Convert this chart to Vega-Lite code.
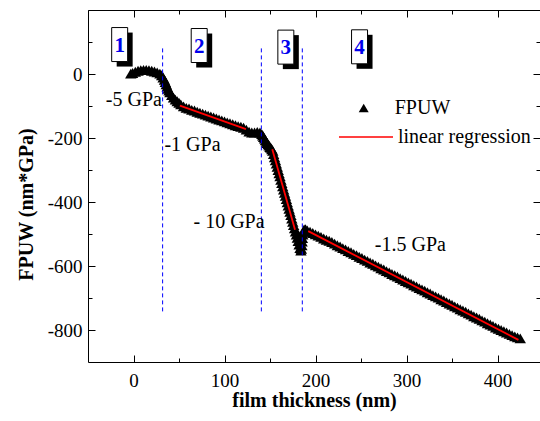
{
  "$schema": "https://vega.github.io/schema/vega-lite/v6.json",
  "width": 452,
  "height": 352,
  "autosize": {"type": "none"},
  "padding": {"left": 88, "top": 10, "right": 0, "bottom": 59},
  "background": "white",
  "config": {
    "view": {"stroke": null},
    "axis": {
      "grid": false,
      "domainColor": "black",
      "domainWidth": 1,
      "tickColor": "black",
      "tickWidth": 1,
      "labelColor": "black",
      "labelFont": "Liberation Serif",
      "labelFontSize": 19,
      "titleFont": "Liberation Serif",
      "titleFontSize": 20,
      "titleFontWeight": "bold",
      "titleColor": "black",
      "labelFlush": false,
      "labelOverlap": false
    },
    "legend": {
      "labelFont": "Liberation Serif",
      "labelFontSize": 20,
      "labelColor": "black",
      "padding": 0,
      "labelLimit": 400
    }
  },
  "datasets": {
    "curve": [
      {"thickness": -3, "fpuw": 1}, {"thickness": -1, "fpuw": 3}, {"thickness": 2, "fpuw": 7}, {"thickness": 5, "fpuw": 10},
      {"thickness": 8, "fpuw": 12}, {"thickness": 11, "fpuw": 13}, {"thickness": 14, "fpuw": 13}, {"thickness": 17, "fpuw": 12},
      {"thickness": 20, "fpuw": 10}, {"thickness": 23, "fpuw": 8}, {"thickness": 26, "fpuw": 5}, {"thickness": 29, "fpuw": 1},
      {"thickness": 31, "fpuw": -4}, {"thickness": 32.5, "fpuw": -11}, {"thickness": 34, "fpuw": -18}, {"thickness": 35, "fpuw": -25},
      {"thickness": 36, "fpuw": -32}, {"thickness": 37, "fpuw": -39}, {"thickness": 38, "fpuw": -46}, {"thickness": 39, "fpuw": -52},
      {"thickness": 40, "fpuw": -57}, {"thickness": 42, "fpuw": -66}, {"thickness": 44, "fpuw": -74}, {"thickness": 46, "fpuw": -80},
      {"thickness": 48, "fpuw": -85}, {"thickness": 50, "fpuw": -90}, {"thickness": 52, "fpuw": -95}, {"thickness": 55, "fpuw": -101},
      {"thickness": 58, "fpuw": -106}, {"thickness": 61, "fpuw": -108}, {"thickness": 64, "fpuw": -112}, {"thickness": 67, "fpuw": -114},
      {"thickness": 70, "fpuw": -118}, {"thickness": 73, "fpuw": -121}, {"thickness": 76, "fpuw": -124}, {"thickness": 79, "fpuw": -127},
      {"thickness": 82, "fpuw": -130}, {"thickness": 85, "fpuw": -133}, {"thickness": 88, "fpuw": -136}, {"thickness": 91, "fpuw": -139},
      {"thickness": 94, "fpuw": -142}, {"thickness": 97, "fpuw": -145}, {"thickness": 100, "fpuw": -148}, {"thickness": 103, "fpuw": -151},
      {"thickness": 106, "fpuw": -154}, {"thickness": 109, "fpuw": -157}, {"thickness": 112, "fpuw": -160}, {"thickness": 115, "fpuw": -163},
      {"thickness": 118, "fpuw": -165}, {"thickness": 121, "fpuw": -168}, {"thickness": 124, "fpuw": -174}, {"thickness": 127, "fpuw": -180},
      {"thickness": 130, "fpuw": -183}, {"thickness": 133, "fpuw": -183}, {"thickness": 136, "fpuw": -181}, {"thickness": 139, "fpuw": -183},
      {"thickness": 141, "fpuw": -188}, {"thickness": 142, "fpuw": -192}, {"thickness": 143, "fpuw": -197}, {"thickness": 144, "fpuw": -202},
      {"thickness": 145, "fpuw": -207}, {"thickness": 146, "fpuw": -212}, {"thickness": 147, "fpuw": -216}, {"thickness": 148, "fpuw": -220},
      {"thickness": 149, "fpuw": -224}, {"thickness": 150, "fpuw": -228}, {"thickness": 151, "fpuw": -231}, {"thickness": 152, "fpuw": -235},
      {"thickness": 153, "fpuw": -240}, {"thickness": 154, "fpuw": -250}, {"thickness": 155, "fpuw": -260}, {"thickness": 156, "fpuw": -270},
      {"thickness": 157, "fpuw": -280}, {"thickness": 158, "fpuw": -290}, {"thickness": 159, "fpuw": -300}, {"thickness": 160, "fpuw": -310},
      {"thickness": 161, "fpuw": -320}, {"thickness": 162, "fpuw": -331}, {"thickness": 163, "fpuw": -341}, {"thickness": 164, "fpuw": -351},
      {"thickness": 165, "fpuw": -361}, {"thickness": 166, "fpuw": -371}, {"thickness": 167, "fpuw": -381}, {"thickness": 168, "fpuw": -391},
      {"thickness": 169, "fpuw": -401}, {"thickness": 170, "fpuw": -411}, {"thickness": 171, "fpuw": -421}, {"thickness": 172, "fpuw": -431},
      {"thickness": 173, "fpuw": -441}, {"thickness": 174, "fpuw": -452}, {"thickness": 175, "fpuw": -462}, {"thickness": 176, "fpuw": -472},
      {"thickness": 177, "fpuw": -482}, {"thickness": 178, "fpuw": -492}, {"thickness": 179, "fpuw": -502}, {"thickness": 180, "fpuw": -512},
      {"thickness": 181, "fpuw": -522}, {"thickness": 182, "fpuw": -533}, {"thickness": 183, "fpuw": -544}, {"thickness": 184, "fpuw": -552},
      {"thickness": 184.5, "fpuw": -546}, {"thickness": 185, "fpuw": -535}, {"thickness": 185.3, "fpuw": -524}, {"thickness": 185.6, "fpuw": -513},
      {"thickness": 186, "fpuw": -502}, {"thickness": 186.5, "fpuw": -493}, {"thickness": 187.5, "fpuw": -486}, {"thickness": 189, "fpuw": -485},
      {"thickness": 191, "fpuw": -489}, {"thickness": 194, "fpuw": -493}, {"thickness": 197, "fpuw": -497}, {"thickness": 200, "fpuw": -501},
      {"thickness": 203, "fpuw": -505}, {"thickness": 206, "fpuw": -509}, {"thickness": 209, "fpuw": -514}, {"thickness": 212, "fpuw": -518},
      {"thickness": 215, "fpuw": -521}, {"thickness": 218, "fpuw": -525}, {"thickness": 221, "fpuw": -530}, {"thickness": 224, "fpuw": -535},
      {"thickness": 227, "fpuw": -539}, {"thickness": 230, "fpuw": -544}, {"thickness": 233, "fpuw": -548}, {"thickness": 236, "fpuw": -553},
      {"thickness": 239, "fpuw": -557}, {"thickness": 242, "fpuw": -562}, {"thickness": 245, "fpuw": -566}, {"thickness": 248, "fpuw": -571},
      {"thickness": 251, "fpuw": -575}, {"thickness": 254, "fpuw": -580}, {"thickness": 257, "fpuw": -584}, {"thickness": 260, "fpuw": -589},
      {"thickness": 263, "fpuw": -593}, {"thickness": 266, "fpuw": -598}, {"thickness": 269, "fpuw": -602}, {"thickness": 272, "fpuw": -607},
      {"thickness": 275, "fpuw": -611}, {"thickness": 278, "fpuw": -616}, {"thickness": 281, "fpuw": -620}, {"thickness": 284, "fpuw": -625},
      {"thickness": 287, "fpuw": -629}, {"thickness": 290, "fpuw": -633}, {"thickness": 293, "fpuw": -638}, {"thickness": 296, "fpuw": -642},
      {"thickness": 299, "fpuw": -647}, {"thickness": 302, "fpuw": -651}, {"thickness": 305, "fpuw": -655}, {"thickness": 308, "fpuw": -660},
      {"thickness": 311, "fpuw": -664}, {"thickness": 314, "fpuw": -669}, {"thickness": 317, "fpuw": -673}, {"thickness": 320, "fpuw": -677},
      {"thickness": 323, "fpuw": -682}, {"thickness": 326, "fpuw": -686}, {"thickness": 329, "fpuw": -691}, {"thickness": 332, "fpuw": -695},
      {"thickness": 335, "fpuw": -699}, {"thickness": 338, "fpuw": -704}, {"thickness": 341, "fpuw": -708}, {"thickness": 344, "fpuw": -713},
      {"thickness": 347, "fpuw": -717}, {"thickness": 350, "fpuw": -721}, {"thickness": 353, "fpuw": -726}, {"thickness": 356, "fpuw": -730},
      {"thickness": 359, "fpuw": -735}, {"thickness": 362, "fpuw": -739}, {"thickness": 365, "fpuw": -743}, {"thickness": 368, "fpuw": -748},
      {"thickness": 371, "fpuw": -752}, {"thickness": 374, "fpuw": -757}, {"thickness": 377, "fpuw": -761}, {"thickness": 380, "fpuw": -765},
      {"thickness": 383, "fpuw": -770}, {"thickness": 386, "fpuw": -774}, {"thickness": 389, "fpuw": -779}, {"thickness": 392, "fpuw": -783},
      {"thickness": 395, "fpuw": -787}, {"thickness": 398, "fpuw": -792}, {"thickness": 401, "fpuw": -796}, {"thickness": 404, "fpuw": -800},
      {"thickness": 407, "fpuw": -804}, {"thickness": 410, "fpuw": -808}, {"thickness": 413, "fpuw": -812}, {"thickness": 416, "fpuw": -816},
      {"thickness": 419, "fpuw": -820}, {"thickness": 422, "fpuw": -823}, {"thickness": 425, "fpuw": -826}
    ],
    "fits": [
      {"segment": "2", "thickness": 51, "fpuw": -99}, {"segment": "2", "thickness": 123.6, "fpuw": -172},
      {"segment": "3", "thickness": 152.5, "fpuw": -235}, {"segment": "3", "thickness": 177.5, "fpuw": -487},
      {"segment": "4", "thickness": 192, "fpuw": -491}, {"segment": "4", "thickness": 423, "fpuw": -831}
    ],
    "bounds": [{"thickness": 32}, {"thickness": 140.5}, {"thickness": 185.5}],
    "regions": [
      {"label": "1", "thickness": -15.2, "fpuw": 92},
      {"label": "2", "thickness": 72.2, "fpuw": 89},
      {"label": "3", "thickness": 167.4, "fpuw": 84},
      {"label": "4", "thickness": 248.4, "fpuw": 85}
    ],
    "notes": [
      {"text": "-5 GPa", "thickness": 0.4, "fpuw": -100},
      {"text": "-1 GPa", "thickness": 64.8, "fpuw": -240},
      {"text": "- 10 GPa", "thickness": 105, "fpuw": -482},
      {"text": "-1.5 GPa", "thickness": 304.2, "fpuw": -552}
    ]
  },
  "resolve": {"axis": {"x": "independent", "y": "independent"}},
  "layer": [
    {
      "data": {"name": "curve"},
      "mark": {"type": "point", "filled": true, "color": "black", "size": 130, "opacity": 1},
      "encoding": {
        "x": {"field": "thickness", "type": "quantitative", "scale": {"domain": [-50, 446.7], "nice": false, "zero": false},
          "axis": {"orient": "bottom", "values": [0, 100, 200, 300, 400], "tickSize": -7, "labelPadding": 16, "title": "film thickness (nm)", "titlePadding": 0}},
        "y": {"field": "fpuw", "type": "quantitative", "scale": {"domain": [-900, 200], "nice": false, "zero": false},
          "axis": {"orient": "left", "values": [0, -200, -400, -600, -800], "tickSize": -7, "labelPadding": 13,
            "labelExpr": "datum.value < 0 ? '-' + abs(datum.value) : '' + datum.value", "title": "FPUW (nm*GPa)", "titlePadding": 11, "titleY": 194}},
        "shape": {"datum": "FPUW", "type": "nominal", "scale": {"domain": ["FPUW"], "range": ["triangle-up"]},
          "legend": {"orient": "none", "legendX": 265.7, "legendY": 88, "title": null, "symbolSize": 100, "symbolFillColor": "black", "symbolStrokeColor": "black", "symbolStrokeWidth": 0, "labelOffset": 21}}
      }
    },
    {
      "data": {"name": "fits"},
      "mark": {"type": "line", "strokeWidth": 1.8},
      "encoding": {
        "x": {"field": "thickness", "type": "quantitative", "scale": {"domain": [-50, 446.7], "nice": false, "zero": false},
          "axis": {"orient": "bottom", "values": [50, 150, 250, 350], "tickSize": -4, "labels": false, "domain": false, "title": null}},
        "y": {"field": "fpuw", "type": "quantitative", "scale": {"domain": [-900, 200], "nice": false, "zero": false},
          "axis": {"orient": "left", "values": [100, -100, -300, -500, -700], "tickSize": -4, "labels": false, "domain": false, "title": null}},
        "detail": {"field": "segment"},
        "color": {"datum": "linear regression", "type": "nominal", "scale": {"domain": ["linear regression"], "range": ["#ff0000"]},
          "legend": {"orient": "none", "legendX": 250, "legendY": 99, "title": null, "symbolType": "stroke", "symbolSize": 2916, "symbolStrokeWidth": 1.5, "symbolStrokeColor": "#ff0000", "labelOffset": 4}}
      }
    },
    {
      "data": {"name": "bounds"},
      "mark": {"type": "rule", "color": "#0000ff", "strokeWidth": 1, "strokeDash": [4, 3]},
      "encoding": {
        "x": {"field": "thickness", "type": "quantitative", "scale": {"domain": [-50, 446.7], "nice": false, "zero": false},
          "axis": {"orient": "top", "values": [0, 100, 200, 300, 400], "tickSize": -7, "labels": false, "title": null}},
        "y": {"datum": 80, "type": "quantitative", "scale": {"domain": [-900, 200], "nice": false, "zero": false},
          "axis": {"orient": "right", "values": [0, -200, -400, -600, -800], "tickSize": -7, "labels": false, "domain": false, "title": null}},
        "y2": {"datum": -750}
      }
    },
    {
      "data": {"name": "regions"},
      "mark": {"type": "point", "shape": "M-0.47,-1H0.47V1H-0.47Z", "size": 1156, "filled": true, "color": "black", "opacity": 1, "xOffset": 5, "yOffset": 5},
      "encoding": {
        "x": {"field": "thickness", "type": "quantitative", "scale": {"domain": [-50, 446.7], "nice": false, "zero": false},
          "axis": {"orient": "top", "values": [-50, 50, 150, 250, 350], "tickSize": -4, "labels": false, "domain": false, "title": null}},
        "y": {"field": "fpuw", "type": "quantitative", "scale": {"domain": [-900, 200], "nice": false, "zero": false},
          "axis": {"orient": "right", "values": [100, -100, -300, -500, -700], "tickSize": -4, "labels": false, "domain": false, "title": null}}
      }
    },
    {
      "data": {"name": "regions"},
      "mark": {"type": "point", "shape": "M-0.47,-1H0.47V1H-0.47Z", "size": 1156, "filled": true, "fill": "white", "stroke": "black", "strokeWidth": 1, "opacity": 1},
      "encoding": {
        "x": {"field": "thickness", "type": "quantitative", "axis": null},
        "y": {"field": "fpuw", "type": "quantitative", "axis": null}
      }
    },
    {
      "data": {"name": "regions"},
      "mark": {"type": "text", "font": "Liberation Serif", "fontSize": 21, "fontWeight": "bold", "color": "#0000ee", "align": "center", "baseline": "middle", "dy": 1},
      "encoding": {
        "x": {"field": "thickness", "type": "quantitative", "axis": null},
        "y": {"field": "fpuw", "type": "quantitative", "axis": null},
        "text": {"field": "label"}
      }
    },
    {
      "data": {"name": "notes"},
      "mark": {"type": "text", "font": "Liberation Serif", "fontSize": 20, "color": "black", "align": "center", "baseline": "alphabetic"},
      "encoding": {
        "x": {"field": "thickness", "type": "quantitative", "axis": null},
        "y": {"field": "fpuw", "type": "quantitative", "axis": null},
        "text": {"field": "text"}
      }
    }
  ]
}
